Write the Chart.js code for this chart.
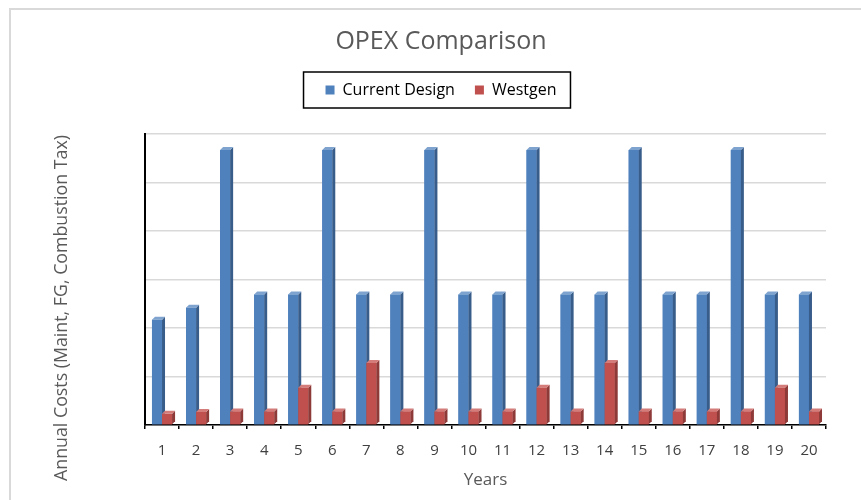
<!DOCTYPE html>
<html>
<head>
<meta charset="utf-8">
<script src="https://cdn.jsdelivr.net/npm/chart.js@4"></script>
<style>
body { margin: 0; background: #fff; }
</style>
</head>
<body>
<canvas id="myChart" width="861" height="500"></canvas>
<script>
// data (y axis has no labels, units are gridline steps)
var years = ['1','2','3','4','5','6','7','8','9','10','11','12','13','14','15','16','17','18','19','20'];
var current_design = [2.17, 2.42, 5.67, 2.69, 2.69, 5.67, 2.69, 2.69, 5.67, 2.69, 2.69, 5.67, 2.69, 2.69, 5.67, 2.69, 2.69, 5.67, 2.69, 2.69];
var westgen = [0.23, 0.27, 0.28, 0.28, 0.77, 0.28, 1.28, 0.28, 0.28, 0.28, 0.28, 0.77, 0.28, 1.28, 0.28, 0.28, 0.28, 0.28, 0.77, 0.28];

var face = {
  0: { front: '#4F81BD', side: '#385D8A', top: '#7FA3CF' },
  1: { front: '#C0504D', side: '#8E3A38', top: '#D47C7A' }
};
var depth = 3;

// fake the excel 3D look: redraw each bar with a side and a top face
var bars3d = {
  id: 'bars3d',
  afterDatasetsDraw: function(chart) {
    var ctx = chart.ctx;
    ctx.save();
    [0, 1].forEach(function(i) {
      var c = face[i];
      chart.getDatasetMeta(i).data.forEach(function(bar) {
        var p = bar.getProps(['x', 'y', 'base', 'width'], true);
        var l = p.x - p.width / 2, r = p.x + p.width / 2;
        ctx.fillStyle = c.front;
        ctx.fillRect(l, p.y, r - l, p.base - p.y);
        ctx.fillStyle = c.side;
        ctx.beginPath();
        ctx.moveTo(r, p.y);
        ctx.lineTo(r + depth, p.y - depth);
        ctx.lineTo(r + depth, p.base - depth);
        ctx.lineTo(r, p.base);
        ctx.closePath();
        ctx.fill();
        ctx.fillStyle = c.top;
        ctx.beginPath();
        ctx.moveTo(l, p.y);
        ctx.lineTo(l + depth, p.y - depth);
        ctx.lineTo(r + depth, p.y - depth);
        ctx.lineTo(r, p.y);
        ctx.closePath();
        ctx.fill();
      });
    });
    ctx.restore();
  }
};

var extras = {
  id: 'extras',
  beforeInit: function(chart) {
    var fit = chart.legend.fit;
    chart.legend.fit = function() {
      fit.call(this);
      this.height = 72;
    };
  },
  beforeDraw: function(chart) {
    var ctx = chart.ctx;
    ctx.save();
    ctx.strokeStyle = '#d9d9d9';
    ctx.lineWidth = 2;
    ctx.beginPath();
    ctx.moveTo(10, 500);
    ctx.lineTo(10, 9);
    ctx.lineTo(861, 9);
    ctx.stroke();
    ctx.restore();
  },
  afterDraw: function(chart) {
    var ctx = chart.ctx;
    ctx.save();
    // legend frame
    var hb = chart.legend.legendHitBoxes;
    if (hb.length) {
      var first = hb[0], last = hb[hb.length - 1];
      var x0 = first.left - 22, x1 = last.left + last.width + 14;
      var y0 = first.top + first.height / 2 - 18;
      ctx.strokeStyle = '#000';
      ctx.lineWidth = 1.5;
      ctx.strokeRect(x0, y0, x1 - x0, 36);
    }
    // y axis title
    ctx.translate(62, 308);
    ctx.rotate(-Math.PI / 2);
    ctx.fillStyle = '#595959';
    ctx.font = '17.8px "Open Sans"';
    ctx.textAlign = 'center';
    ctx.textBaseline = 'middle';
    ctx.fillText('Annual Costs (Maint, FG, Combustion Tax)', 0, 0);
    ctx.restore();
  }
};

var ctx = document.getElementById('myChart').getContext('2d');
var myChart = new Chart(ctx, {
  type: 'bar',
  data: {
    labels: years,
    datasets: [{
      label: 'Current Design',
      data: current_design,
      backgroundColor: '#4F81BD'
    }, {
      label: 'Westgen',
      data: westgen,
      backgroundColor: '#C0504D'
    }]
  },
  options: {
    responsive: false,
    animation: false,
    categoryPercentage: 0.59,
    barPercentage: 1,
    layout: { padding: { left: 56, right: 35, top: 0, bottom: 10 } },
    plugins: {
      title: {
        display: true,
        text: 'OPEX Comparison',
        color: '#595959',
        font: { family: 'Open Sans', size: 25, weight: 'normal' },
        padding: { top: 27, bottom: 5 }
      },
      legend: {
        labels: {
          boxWidth: 9,
          boxHeight: 9,
          padding: 20,
          color: '#000',
          font: { family: 'Open Sans', size: 16 }
        }
      },
      tooltip: { enabled: false }
    },
    scales: {
      x: {
        grid: { drawOnChartArea: false, drawTicks: true, tickLength: 4, color: '#000', lineWidth: 1.5 },
        border: { color: '#000', width: 1.5 },
        ticks: { color: '#404040', padding: 13, font: { family: 'Open Sans', size: 15 }, maxRotation: 0 },
        title: {
          display: true,
          text: 'Years',
          color: '#595959',
          font: { family: 'Open Sans', size: 17 },
          padding: { top: 0, bottom: 0 }
        },
        afterFit: function(scale) { scale.height = 65; }
      },
      y: {
        min: 0,
        max: 6,
        ticks: { display: false, stepSize: 1 },
        grid: { color: '#d9d9d9', lineWidth: 1.5, drawTicks: false },
        border: { color: '#000', width: 2 },
        afterFit: function(scale) { scale.width = 89; }
      }
    }
  },
  plugins: [bars3d, extras]
});
</script>
</body>
</html>
